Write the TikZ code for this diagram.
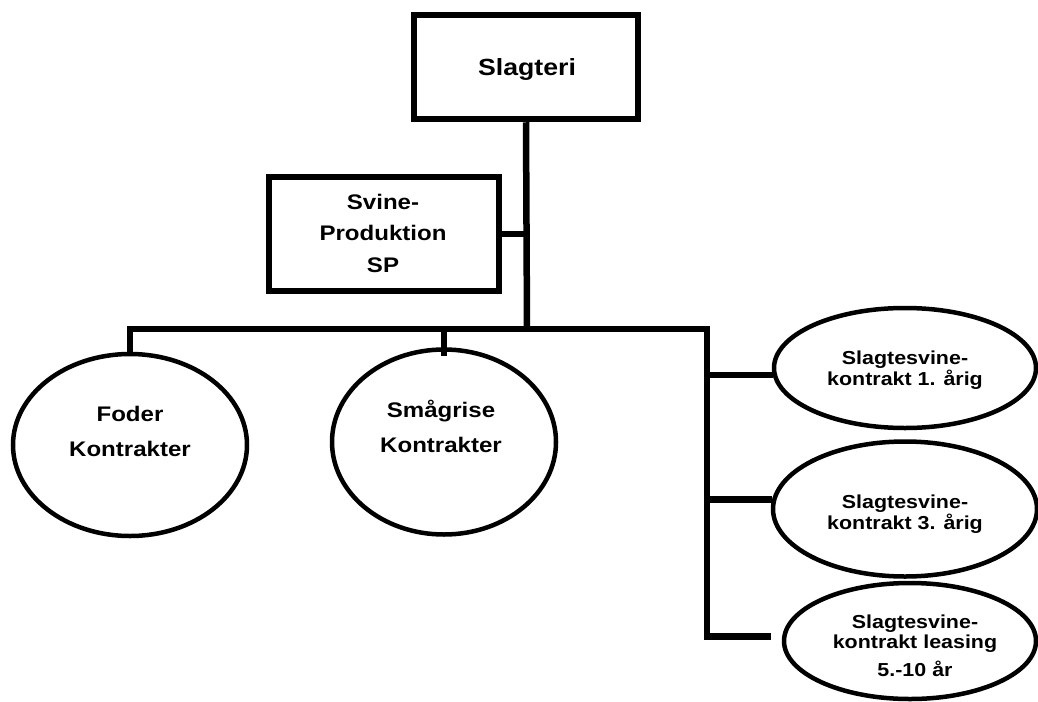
\documentclass[tikz,border=0pt]{standalone}
\usepackage{fontspec}
\newfontfamily\labfont[FakeStretch=1.14]{Liberation Sans}
\usetikzlibrary{shapes.geometric}

% centred stack of lines whose baseline is the first line
\newcommand\lblstack[1]{\begin{tabular}[t]{@{}c@{}}#1\end{tabular}}

\begin{document}
\begin{tikzpicture}[x=1pt,y=-1pt,
  box/.style={draw, rectangle, line width=6.5pt, inner sep=0pt},
  oval/.style={draw, ellipse, line width=4.5pt, inner sep=0pt},
  conn/.style={line width=6.5pt},
  txt/.style={anchor=base, inner sep=0pt},
  head/.style={txt, font=\labfont\bfseries\fontsize{23.4}{28}\selectfont},
  mid/.style={txt, font=\labfont\bfseries\fontsize{21.1}{31.5}\selectfont},
  low/.style={txt, font=\labfont\bfseries\fontsize{21.1}{35}\selectfont},
  small/.style={txt, font=\labfont\bfseries\fontsize{18.8}{20.5}\selectfont},
]
\useasboundingbox (0,0) rectangle (1038,701);

% boxes
\node[box, minimum width=224pt, minimum height=104pt] (slag) at (526,67) {};
\node[box, minimum width=230pt, minimum height=114pt] (sp) at (384,234) {};

% contract ovals
\node[oval, minimum width=234pt, minimum height=182pt] (foder) at (130,445) {};
\node[oval, minimum width=224pt, minimum height=185pt] (smaa) at (444,442) {};
\node[oval, minimum width=262pt, minimum height=120pt] (e1) at (905,368) {};
\node[oval, minimum width=264pt, minimum height=135pt] (e2) at (905,509) {};
\node[oval, minimum width=252pt, minimum height=116pt] (e3) at (910,641) {};

% labels
\node[head] (tslag) at (527,75) {Slagteri};
\node[mid] (tsp) at (383,209) {\lblstack{Svine-\\Produktion\\SP}};
\node[low] (tfoder) at (130,421) {\lblstack{Foder\\Kontrakter}};
\node[low] (tsmaa) at (441,417) {\lblstack{Smågrise\\Kontrakter}};
\node[small] (te1) at (905,364) {\lblstack{Slagtesvine-\\kontrakt 1. årig}};
\node[small] (te2) at (905,508) {\lblstack{Slagtesvine-\\kontrakt 3. årig}};
\node[small] (te3) at (915,628) {\lblstack{Slagtesvine-\\kontrakt leasing\\[6.5pt]5.-10 år}};

% connectors
\coordinate (j) at (527,329);
\coordinate (k) at (707,329);
\draw[conn] (slag.south) -- (j);
\draw[conn] (sp.east) -- (sp.east -| j);
\draw[conn] (foder.north) |- (j);
\draw[conn] ([yshift=-9pt]smaa.north) -- (smaa.north |- j);
\draw[conn, shorten >=11pt] (j) -- (k) -- (k |- e3.178) -- (e3.178);
\draw[conn] (k |- e1.183) -- (e1.183);
\draw[conn] (k |- e2.176) -- (e2.176);
\end{tikzpicture}
\end{document}
